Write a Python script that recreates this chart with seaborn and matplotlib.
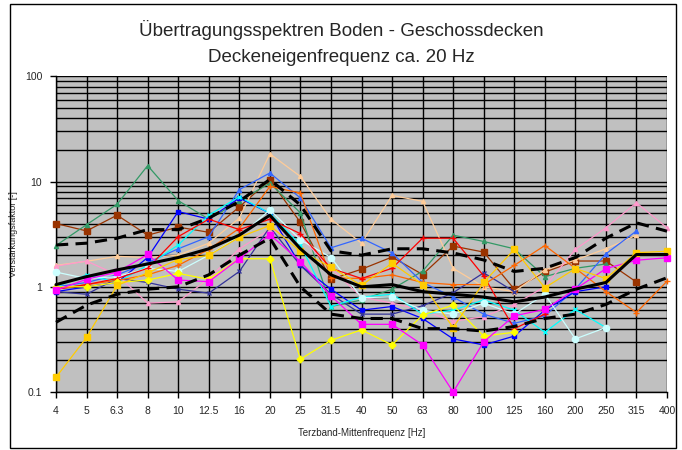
import numpy as np
import pandas as pd
import matplotlib
matplotlib.use("Agg")
import matplotlib.pyplot as plt
from matplotlib.patches import Rectangle
import seaborn as sns

# ---------- data ----------
freq_labels = ["4", "5", "6.3", "8", "10", "12.5", "16", "20", "25", "31.5", "40",
               "50", "63", "80", "100", "125", "160", "200", "250", "315", "400"]
nan = np.nan

brown = [4.0, 3.4, 4.8, 3.1, 3.7, 3.3, 5.75, 10.4, 4.1, 1.18, 1.47, 1.92, 1.31, 2.44, 2.14, 0.95, 1.38, 1.76, 1.76, 1.11, nan]
green = [2.47, 3.9, 6.1, 14.2, 6.6, 4.4, 6.5, 9.7, 5.05, 0.65, 0.75, 0.95, 1.41, 3.1, 2.7, 2.3, 1.25, 1.5, 1.65, nan, nan]
peach = [1.6, 1.75, 1.95, 1.9, 2.0, 2.6, 4.5, 18.4, 11.2, 4.4, 2.6, 7.4, 6.5, 1.5, 1.0, 0.9, 1.45, 1.8, 2.3, 3.1, nan]
pink = [1.57, 1.76, 1.3, 0.7, 0.72, 1.2, 2.3, 3.5, 3.0, 1.5, 0.8, 0.7, 0.6, 0.47, 0.52, 0.68, 1.0, 2.27, 3.64, 6.3, 3.64]
magenta = [0.93, 1.18, 1.38, 2.03, 1.16, 1.12, 1.85, 3.14, 1.74, 0.82, 0.44, 0.44, 0.28, 0.1, 0.3, 0.53, 0.61, 0.95, 1.49, 1.79, 1.89]
gold = [0.138, 0.33, 1.03, 1.36, 1.82, 1.99, 2.96, 3.83, 2.18, 1.54, 1.03, 1.68, 1.05, 0.41, 1.1, 2.27, 0.98, 1.49, 1.2, 2.11, 2.18]
yellow = [1.0, 1.0, 1.1, 1.16, 1.34, 1.18, 1.85, 1.85, 0.205, 0.31, 0.39, 0.28, 0.54, 0.67, 0.34, 0.37, nan, nan, nan, nan, nan]
royal = [1.0, 1.1, 1.3, 1.7, 2.3, 3.0, 8.4, 12.1, 7.0, 2.35, 2.9, 2.1, 1.1, 0.8, 0.55, 0.45, 0.53, 0.95, 2.06, 3.4, nan]
blue = [0.9, 1.0, 1.1, 1.9, 5.2, 4.4, 7.0, 5.0, 1.6, 0.95, 0.6, 0.65, 0.5, 0.32, 0.28, 0.34, 0.6, 0.9, 1.0, nan, nan]
cyan = [1.0, 1.3, 1.1, 1.6, 2.5, 4.8, 7.2, 5.0, 2.5, 0.65, 0.8, 0.85, 0.55, 0.6, 0.75, 0.6, 0.37, 0.61, 0.41, nan, nan]
lightcyan = [1.38, 1.2, 1.25, 1.5, 1.4, 2.0, 3.0, 5.4, 2.8, 1.9, 0.79, 0.8, 0.6, 0.55, 0.7, 0.55, 0.85, 0.32, 0.41, nan, nan]
orange = [0.95, 1.05, 1.15, 1.3, 1.6, 2.27, 3.6, 9.0, 7.8, 1.22, 1.2, 1.3, 1.1, 1.05, 1.05, 1.6, 2.47, 1.5, 0.9, 0.57, 1.13]
red = [0.95, 1.05, 1.2, 1.5, 3.0, 4.4, 3.5, 4.4, 3.2, 1.5, 1.2, 1.5, 2.9, 2.9, 1.27, 0.4, 0.55, nan, nan, nan, nan]
navy = [0.9, 0.85, 1.2, 1.1, 0.95, 0.87, 1.4, 3.7, 1.6, 0.85, 0.55, 0.55, 0.66, 0.88, 1.36, 0.9, nan, nan, nan, nan, nan]

mean_line = [1.05, 1.25, 1.45, 1.65, 1.9, 2.3, 3.1, 4.8, 2.3, 1.3, 1.0, 1.05, 0.9, 0.85, 0.8, 0.72, 0.8, 0.95, 1.1, 2.03, 2.03]
upper_line = [2.5, 2.6, 2.9, 3.5, 3.5, 4.5, 6.5, 10.5, 6.0, 2.2, 2.0, 2.3, 2.3, 2.1, 1.8, 1.4, 1.5, 1.9, 2.9, 4.06, 3.38]
lower_line = [0.46, 0.67, 0.85, 0.95, 1.0, 1.3, 2.0, 2.9, 1.0, 0.55, 0.5, 0.5, 0.4, 0.4, 0.38, 0.42, 0.5, 0.55, 0.68, 0.95, 1.22]

x = np.arange(len(freq_labels))

series = [
    (brown, "#993300", "s", 4.5),
    (green, "#339966", "^", 3),
    (peach, "#FFCC99", "^", 3),
    (pink, "#FF99CC", "^", 3),
    (royal, "#3366FF", "^", 3),
    (blue, "#0000FF", "s", 3),
    (navy, "#333399", "x", 3.5),
    (cyan, "#00FFFF", "x", 3.5),
    (lightcyan, "#CCFFFF", "o", 4.5),
    (orange, "#FF6600", "+", 4.5),
    (red, "#FF0000", "+", 4.5),
    (yellow, "#FFFF00", "D", 3.5),
    (magenta, "#FF00FF", "s", 5),
    (gold, "#FFCC00", "s", 5),
]

# ---------- style ----------
sns.set_style("white")
plt.rcParams['font.family'] = ['Liberation Sans', 'DejaVu Sans']

fig = plt.figure(figsize=(6.82, 4.5), dpi=100)
ax = fig.add_axes([56 / 682, 1 - 392 / 450, 611 / 682, 315.5 / 450])
ax.set_facecolor("#C0C0C0")

for vals, col, mk, ms in series:
    sns.lineplot(x=x, y=vals, ax=ax, color=col, linewidth=0.9, marker=mk,
                 markersize=ms, markeredgecolor=col, markeredgewidth=1,
                 clip_on=False, zorder=3)

for vals, dashed in [(upper_line, True), (lower_line, True), (mean_line, False)]:
    line = sns.lineplot(x=x, y=vals, ax=ax, color="black", linewidth=2.2,
                        clip_on=False, zorder=4).lines[-1]
    if dashed:
        line.set_dashes((4, 2.4))

ax.set_yscale("log")
ax.set_ylim(0.1, 100)
ax.set_xlim(0, len(freq_labels) - 1)
ax.set_xticks(x)
ax.set_xticklabels(freq_labels, fontsize=7.5)
ax.set_yticks([0.1, 1, 10, 100])
ax.set_yticklabels(["0.1", "1", "10", "100"], fontsize=7.5)
ax.yaxis.set_minor_locator(matplotlib.ticker.LogLocator(base=10, subs=np.arange(2, 10)))
ax.yaxis.set_minor_formatter(matplotlib.ticker.NullFormatter())

ax.grid(True, which="major", axis="both", color="black", linewidth=1)
ax.grid(True, which="minor", axis="y", color="black", linewidth=1)
ax.tick_params(axis="both", which="major", direction="out", length=4, width=1,
               color="black", bottom=True, left=True, pad=6)
ax.tick_params(axis="y", which="minor", length=0)
for side in ["top", "right"]:
    ax.spines[side].set_visible(False)
for side in ["left", "bottom"]:
    ax.spines[side].set_color("black")
    ax.spines[side].set_linewidth(1)

ax.set_xlabel("Terzband-Mittenfrequenz [Hz]", fontsize=7, labelpad=9)
ax.set_ylabel("Verstärkungsfaktor [-]", fontsize=6.5, labelpad=5)

fig.text(0.5, 1 - 30 / 450, "Übertragungsspektren Boden - Geschossdecken",
         ha="center", va="center", fontsize=13.5)
fig.text(0.5, 1 - 57 / 450, "Deckeneigenfrequenz ca. 20 Hz",
         ha="center", va="center", fontsize=13.5)

fig.patches.append(Rectangle((10 / 682, 2 / 450), 666 / 682, 444 / 450,
                             transform=fig.transFigure, fill=False,
                             edgecolor="black", linewidth=1))

fig.savefig("out.png", dpi=100)
